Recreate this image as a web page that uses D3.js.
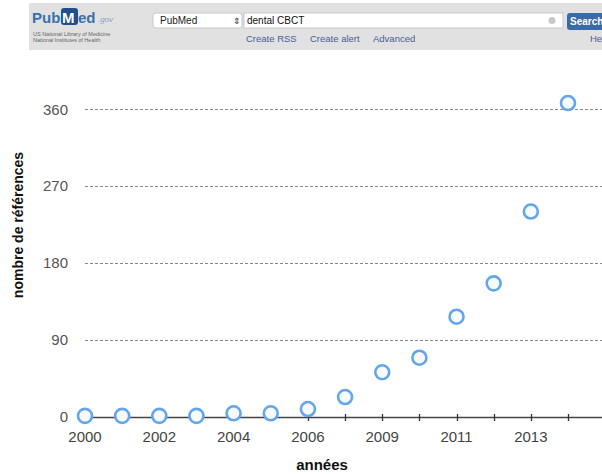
<!DOCTYPE html>
<html><head><meta charset="utf-8">
<script src="https://cdn.jsdelivr.net/npm/d3@7"></script>
<style>body{margin:0;background:#fff}svg{display:block;font-family:"Liberation Sans",Arial,Helvetica,sans-serif}</style>
</head><body>
<svg id="c" width="602" height="474"></svg>
<script>
const categories = ["2000","2001","2002","2003","2004","2005","2006","2008","2009","2010","2011","2012","2013","2014"];
const references = [1, 1, 1, 1, 4, 4, 9, 23, 52, 69, 117, 156, 240, 367];
const yTicks = [0, 90, 180, 270, 360];
const labelEvery = 2;

const svg = d3.select("#c");
const W = 602, H = 474;

// PubMed header
const hdr = svg.append("g");
hdr.append("rect").attr("x", 29).attr("y", 3).attr("width", W - 29).attr("height", 47).attr("fill", "#e1e1e1");
hdr.append("text").attr("x", 32).attr("y", 23).attr("font-size", 15).attr("font-weight", "bold").attr("fill", "#3a6fb0").text("Pub");
hdr.append("rect").attr("x", 61).attr("y", 8).attr("width", 17).attr("height", 17).attr("rx", 3).attr("fill", "#1f4f8f");
hdr.append("text").attr("x", 62).attr("y", 23).attr("font-size", 15).attr("font-weight", "bold").attr("fill", "#ffffff").text("M");
hdr.append("text").attr("x", 78).attr("y", 23).attr("font-size", 15).attr("font-weight", "bold").attr("fill", "#3a6fb0").text("ed");
hdr.append("text").attr("x", 98).attr("y", 22).attr("font-size", 8).attr("font-style", "italic").attr("fill", "#8aa0c0").text(".gov");
hdr.append("text").attr("x", 33).attr("y", 36).attr("font-size", 5.5).attr("fill", "#666").text("US National Library of Medicine");
hdr.append("text").attr("x", 33).attr("y", 42).attr("font-size", 5.5).attr("fill", "#666").text("National Institutes of Health");
hdr.append("rect").attr("x", 153).attr("y", 13).attr("width", 89).attr("height", 15).attr("rx", 3).attr("fill", "#fff").attr("stroke", "#c8c8c8");
hdr.append("text").attr("x", 160).attr("y", 24).attr("font-size", 10).attr("fill", "#222").text("PubMed");
hdr.append("text").attr("x", 233).attr("y", 24).attr("font-size", 9).attr("fill", "#333").text("⇕");
hdr.append("rect").attr("x", 244).attr("y", 13).attr("width", 319).attr("height", 15).attr("fill", "#fff").attr("stroke", "#c8c8c8");
hdr.append("text").attr("x", 247).attr("y", 24).attr("font-size", 10).attr("fill", "#111").text("dental CBCT");
hdr.append("circle").attr("cx", 552).attr("cy", 20.5).attr("r", 3.5).attr("fill", "#c8c8c8");
hdr.append("rect").attr("x", 567).attr("y", 13).attr("width", 45).attr("height", 17).attr("rx", 3).attr("fill", "#3a6aa8");
hdr.append("text").attr("x", 570).attr("y", 25).attr("font-size", 10).attr("font-weight", "bold").attr("fill", "#fff").text("Search");
[["Create RSS", 246], ["Create alert", 310], ["Advanced", 373], ["He", 590]].forEach(([t, x]) => {
  hdr.append("text").attr("x", x).attr("y", 42).attr("font-size", 9.5).attr("fill", "#4a5b9c").text(t);
});

// Chart
const x = d3.scalePoint().domain(categories).range([85, 568]);
const y = d3.scaleLinear().domain([0, 360]).range([416.7, 109]);

const grid = svg.append("g");
grid.selectAll("line").data(yTicks.filter(d => d > 0)).join("line")
  .attr("x1", 85).attr("x2", W).attr("y1", d => Math.round(y(d)) + 0.5).attr("y2", d => Math.round(y(d)) + 0.5)
  .attr("stroke", "#888").attr("stroke-width", 1).attr("stroke-dasharray", "3,2");

svg.append("g").selectAll("text").data(yTicks).join("text")
  .attr("x", 68).attr("y", d => y(d) + 5.5).attr("text-anchor", "end")
  .attr("font-size", 15).attr("fill", "#555").text(d => d);

const axisY = Math.round(y(0)) + 0.5;
svg.append("line").attr("x1", 78).attr("x2", W).attr("y1", axisY).attr("y2", axisY).attr("stroke", "#444").attr("stroke-width", 1.5);
svg.append("g").selectAll("line").data(categories).join("line")
  .attr("x1", d => Math.round(x(d)) + 0.5).attr("x2", d => Math.round(x(d)) + 0.5)
  .attr("y1", axisY - 3.5).attr("y2", axisY + 3.5).attr("stroke", "#333").attr("stroke-width", 1.3);
svg.append("g").selectAll("text").data(categories.filter((d, i) => i % labelEvery === 0)).join("text")
  .attr("x", d => x(d)).attr("y", 442).attr("text-anchor", "middle")
  .attr("font-size", 15).attr("fill", "#444").text(d => d);

svg.append("g").selectAll("circle").data(references).join("circle")
  .attr("cx", (d, i) => x(categories[i])).attr("cy", d => y(d)).attr("r", 7)
  .attr("fill", "#f7fbff").attr("stroke", "#62a6ee").attr("stroke-width", 2.6);

svg.append("text").attr("x", 322).attr("y", 470).attr("text-anchor", "middle")
  .attr("font-size", 15).attr("font-weight", "bold").attr("fill", "#111").text("années");
svg.append("text").attr("transform", "translate(23,225) rotate(-90)").attr("text-anchor", "middle")
  .attr("font-size", 14).attr("font-weight", "bold").attr("fill", "#111").text("nombre de références");
</script>
</body></html>
